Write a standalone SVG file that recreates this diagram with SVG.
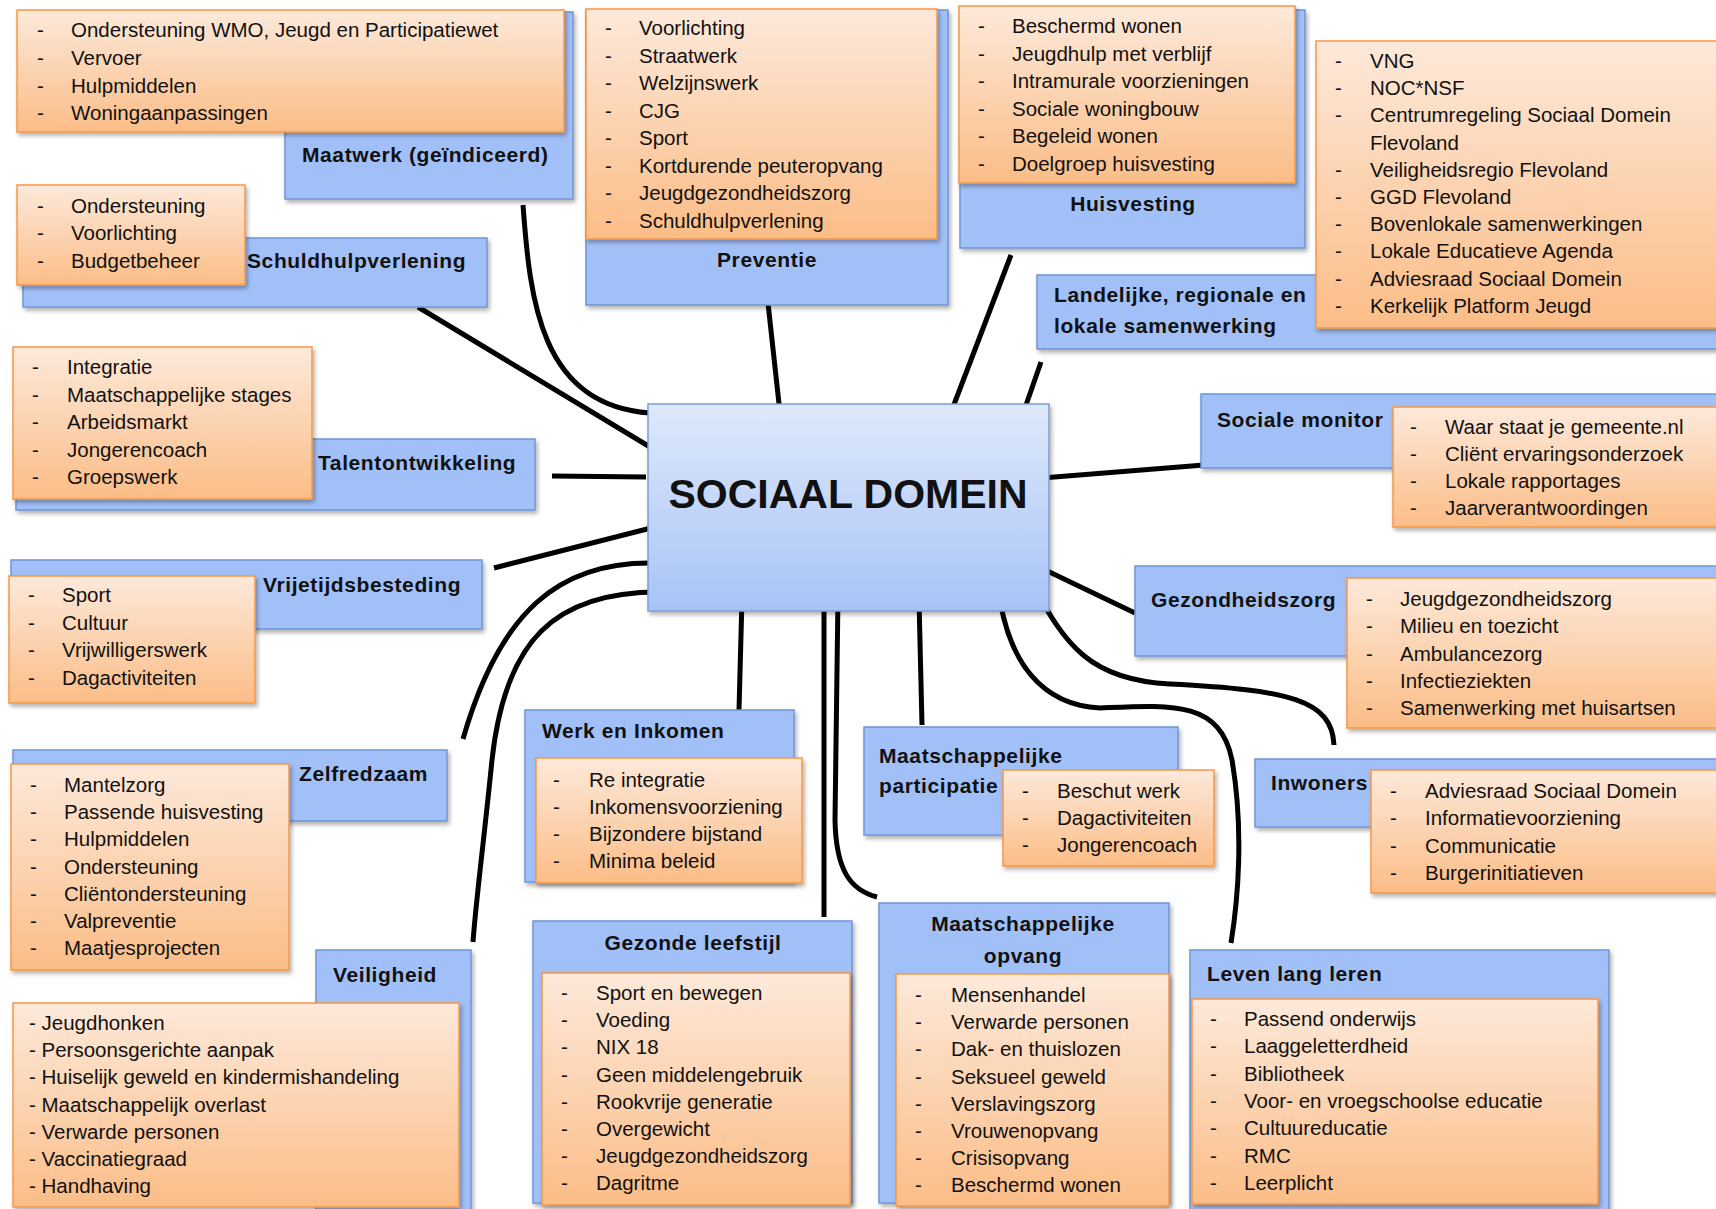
<svg xmlns="http://www.w3.org/2000/svg" width="1716" height="1209" viewBox="0 0 1716 1209">
<defs>
<linearGradient id="og" x1="0" y1="0" x2="0" y2="1"><stop offset="0" stop-color="#fde9da"/><stop offset="1" stop-color="#fbbd87"/></linearGradient>
<linearGradient id="cg" x1="0" y1="0" x2="0" y2="1"><stop offset="0" stop-color="#dfe9fc"/><stop offset="1" stop-color="#a7c3f6"/></linearGradient>
<filter id="sh" x="-5%" y="-5%" width="115%" height="120%"><feDropShadow dx="2" dy="3" stdDeviation="2" flood-color="#000" flood-opacity="0.3"/></filter>
<style>
.b{fill:#a2c0f8;stroke:#6f95d4;stroke-width:1.5;filter:url(#sh)}
.o{fill:url(#og);stroke:#f79646;stroke-width:1.5;filter:url(#sh)}
.t{font-family:"Liberation Sans",Arial,sans-serif;font-weight:bold;font-size:21px;letter-spacing:0.6px;fill:#111}
.i{font-family:"Liberation Sans",Arial,sans-serif;font-size:20.5px;fill:#111}
.m{text-anchor:middle}
.c{fill:none;stroke:#000;stroke-width:5}
</style>
</defs>
<rect width="1716" height="1209" fill="#fff"/>
<g id="connectors">
<path class="c" d="M523,205 C530,300 540,405 650,413"/>
<path class="c" d="M418,307 L650,447"/>
<path class="c" d="M768,303 L780,413"/>
<path class="c" d="M1011,255 L950,415"/>
<path class="c" d="M1041,362 L1025,408"/>
<path class="c" d="M552,476 L646,477"/>
<path class="c" d="M494,568 L655,527"/>
<path class="c" d="M652,563 C560,562 500,610 463,739"/>
<path class="c" d="M659,592 C555,592 505,640 492,760 C484,840 476,900 473,942"/>
<path class="c" d="M739,710 L742,598"/>
<path class="c" d="M824,598 L824,917"/>
<path class="c" d="M838,596 L835,820 C836,870 850,890 877,897"/>
<path class="c" d="M922,725 L919,600"/>
<path class="c" d="M1000,600 C1010,660 1040,705 1100,708 C1170,705 1220,700 1232,760 C1244,830 1238,900 1231,943"/>
<path class="c" d="M1042,478 L1204,465"/>
<path class="c" d="M1039,567 L1135,613"/>
<path class="c" d="M1032,583 C1065,645 1090,680 1170,684 C1290,690 1332,700 1334,745"/>
</g>
<g id="center">
<rect x="648" y="404" width="401" height="207" fill="url(#cg)" stroke="#7a9fd8" stroke-width="1.5" filter="url(#sh)"/>
<text x="848" y="508" class="m" font-family="Liberation Sans, Arial, sans-serif" font-weight="bold" font-size="41" fill="#111">SOCIAAL DOMEIN</text>
</g>
<g id="maatwerk">
<rect class="b" x="285" y="12" width="288" height="187"/>
<rect class="o" x="17" y="10" width="547" height="122"/>
<text class="t" x="302" y="162">Maatwerk (geïndiceerd)</text>
<text class="i"><tspan x="37" y="37">-</tspan><tspan x="71" y="37">Ondersteuning WMO, Jeugd en Participatiewet</tspan><tspan x="37" y="65">-</tspan><tspan x="71" y="65">Vervoer</tspan><tspan x="37" y="93">-</tspan><tspan x="71" y="93">Hulpmiddelen</tspan><tspan x="37" y="120">-</tspan><tspan x="71" y="120">Woningaanpassingen</tspan></text>
</g>
<g id="schuldhulpverlening">
<rect class="b" x="23" y="238" width="464" height="69"/>
<rect class="o" x="17" y="185" width="228" height="100"/>
<text class="t" x="247" y="268">Schuldhulpverlening</text>
<text class="i"><tspan x="37" y="213">-</tspan><tspan x="71" y="213">Ondersteuning</tspan><tspan x="37" y="240">-</tspan><tspan x="71" y="240">Voorlichting</tspan><tspan x="37" y="268">-</tspan><tspan x="71" y="268">Budgetbeheer</tspan></text>
</g>
<g id="preventie">
<rect class="b" x="586" y="10" width="362" height="295"/>
<rect class="o" x="586" y="9" width="351" height="230"/>
<text class="t m" x="767" y="267">Preventie</text>
<text class="i"><tspan x="605" y="35">-</tspan><tspan x="639" y="35">Voorlichting</tspan><tspan x="605" y="62.5">-</tspan><tspan x="639" y="62.5">Straatwerk</tspan><tspan x="605" y="90">-</tspan><tspan x="639" y="90">Welzijnswerk</tspan><tspan x="605" y="117.5">-</tspan><tspan x="639" y="117.5">CJG</tspan><tspan x="605" y="145">-</tspan><tspan x="639" y="145">Sport</tspan><tspan x="605" y="172.5">-</tspan><tspan x="639" y="172.5">Kortdurende peuteropvang</tspan><tspan x="605" y="200">-</tspan><tspan x="639" y="200">Jeugdgezondheidszorg</tspan><tspan x="605" y="227.5">-</tspan><tspan x="639" y="227.5">Schuldhulpverlening</tspan></text>
</g>
<g id="huisvesting">
<rect class="b" x="960" y="10" width="345" height="238"/>
<rect class="o" x="959" y="6" width="336" height="177"/>
<text class="t m" x="1133" y="211">Huisvesting</text>
<text class="i"><tspan x="978" y="33">-</tspan><tspan x="1012" y="33">Beschermd wonen</tspan><tspan x="978" y="60.5">-</tspan><tspan x="1012" y="60.5">Jeugdhulp met verblijf</tspan><tspan x="978" y="88">-</tspan><tspan x="1012" y="88">Intramurale voorzieningen</tspan><tspan x="978" y="115.5">-</tspan><tspan x="1012" y="115.5">Sociale woningbouw</tspan><tspan x="978" y="143">-</tspan><tspan x="1012" y="143">Begeleid wonen</tspan><tspan x="978" y="170.5">-</tspan><tspan x="1012" y="170.5">Doelgroep huisvesting</tspan></text>
</g>
<g id="samenwerking">
<rect class="b" x="1037" y="275" width="690" height="74"/>
<rect class="o" x="1316" y="41" width="410" height="287"/>
<text class="t"><tspan x="1054" y="302">Landelijke, regionale en</tspan><tspan x="1054" y="333">lokale samenwerking</tspan></text>
<text class="i"><tspan x="1335" y="68">-</tspan><tspan x="1370" y="68">VNG</tspan><tspan x="1335" y="95.2">-</tspan><tspan x="1370" y="95.2">NOC*NSF</tspan><tspan x="1335" y="122.4">-</tspan><tspan x="1370" y="122.4">Centrumregeling Sociaal Domein</tspan><tspan x="1370" y="149.6">Flevoland</tspan><tspan x="1335" y="176.8">-</tspan><tspan x="1370" y="176.8">Veiligheidsregio Flevoland</tspan><tspan x="1335" y="204">-</tspan><tspan x="1370" y="204">GGD Flevoland</tspan><tspan x="1335" y="231.2">-</tspan><tspan x="1370" y="231.2">Bovenlokale samenwerkingen</tspan><tspan x="1335" y="258.4">-</tspan><tspan x="1370" y="258.4">Lokale Educatieve Agenda</tspan><tspan x="1335" y="285.6">-</tspan><tspan x="1370" y="285.6">Adviesraad Sociaal Domein</tspan><tspan x="1335" y="312.8">-</tspan><tspan x="1370" y="312.8">Kerkelijk Platform Jeugd</tspan></text>
</g>
<g id="talentontwikkeling">
<rect class="b" x="16" y="439" width="519" height="71"/>
<rect class="o" x="13" y="347" width="299" height="152"/>
<text class="t" x="318" y="470">Talentontwikkeling</text>
<text class="i"><tspan x="32" y="374">-</tspan><tspan x="67" y="374">Integratie</tspan><tspan x="32" y="401.5">-</tspan><tspan x="67" y="401.5">Maatschappelijke stages</tspan><tspan x="32" y="429">-</tspan><tspan x="67" y="429">Arbeidsmarkt</tspan><tspan x="32" y="456.5">-</tspan><tspan x="67" y="456.5">Jongerencoach</tspan><tspan x="32" y="484">-</tspan><tspan x="67" y="484">Groepswerk</tspan></text>
</g>
<g id="sociale-monitor">
<rect class="b" x="1201" y="394" width="526" height="74"/>
<rect class="o" x="1393" y="407" width="334" height="120"/>
<text class="t" x="1217" y="427">Sociale monitor</text>
<text class="i"><tspan x="1410" y="434">-</tspan><tspan x="1445" y="434">Waar staat je gemeente.nl</tspan><tspan x="1410" y="461">-</tspan><tspan x="1445" y="461">Cliënt ervaringsonderzoek</tspan><tspan x="1410" y="488">-</tspan><tspan x="1445" y="488">Lokale rapportages</tspan><tspan x="1410" y="515">-</tspan><tspan x="1445" y="515">Jaarverantwoordingen</tspan></text>
</g>
<g id="vrijetijdsbesteding">
<rect class="b" x="11" y="560" width="471" height="69"/>
<rect class="o" x="9" y="576" width="246" height="127"/>
<text class="t" x="263" y="592">Vrijetijdsbesteding</text>
<text class="i"><tspan x="28" y="602">-</tspan><tspan x="62" y="602">Sport</tspan><tspan x="28" y="629.5">-</tspan><tspan x="62" y="629.5">Cultuur</tspan><tspan x="28" y="657">-</tspan><tspan x="62" y="657">Vrijwilligerswerk</tspan><tspan x="28" y="684.5">-</tspan><tspan x="62" y="684.5">Dagactiviteiten</tspan></text>
</g>
<g id="gezondheidszorg">
<rect class="b" x="1135" y="566" width="592" height="90"/>
<rect class="o" x="1347" y="578" width="380" height="150"/>
<text class="t" x="1151" y="607">Gezondheidszorg</text>
<text class="i"><tspan x="1366" y="606">-</tspan><tspan x="1400" y="606">Jeugdgezondheidszorg</tspan><tspan x="1366" y="633.3">-</tspan><tspan x="1400" y="633.3">Milieu en toezicht</tspan><tspan x="1366" y="660.6">-</tspan><tspan x="1400" y="660.6">Ambulancezorg</tspan><tspan x="1366" y="687.9">-</tspan><tspan x="1400" y="687.9">Infectieziekten</tspan><tspan x="1366" y="715.2">-</tspan><tspan x="1400" y="715.2">Samenwerking met huisartsen</tspan></text>
</g>
<g id="zelfredzaam">
<rect class="b" x="13" y="750" width="434" height="71"/>
<rect class="o" x="11" y="764" width="278" height="206"/>
<text class="t" x="299" y="781">Zelfredzaam</text>
<text class="i"><tspan x="30" y="792">-</tspan><tspan x="64" y="792">Mantelzorg</tspan><tspan x="30" y="819.2">-</tspan><tspan x="64" y="819.2">Passende huisvesting</tspan><tspan x="30" y="846.4">-</tspan><tspan x="64" y="846.4">Hulpmiddelen</tspan><tspan x="30" y="873.6">-</tspan><tspan x="64" y="873.6">Ondersteuning</tspan><tspan x="30" y="900.8">-</tspan><tspan x="64" y="900.8">Cliëntondersteuning</tspan><tspan x="30" y="928">-</tspan><tspan x="64" y="928">Valpreventie</tspan><tspan x="30" y="955.2">-</tspan><tspan x="64" y="955.2">Maatjesprojecten</tspan></text>
</g>
<g id="werk-en-inkomen">
<rect class="b" x="525" y="710" width="269" height="172"/>
<rect class="o" x="536" y="758" width="266" height="125"/>
<text class="t" x="542" y="738">Werk en Inkomen</text>
<text class="i"><tspan x="553" y="786.5">-</tspan><tspan x="589" y="786.5">Re integratie</tspan><tspan x="553" y="813.5">-</tspan><tspan x="589" y="813.5">Inkomensvoorziening</tspan><tspan x="553" y="840.5">-</tspan><tspan x="589" y="840.5">Bijzondere bijstand</tspan><tspan x="553" y="867.5">-</tspan><tspan x="589" y="867.5">Minima beleid</tspan></text>
</g>
<g id="maatschappelijke-participatie">
<rect class="b" x="864" y="727" width="314" height="108"/>
<rect class="o" x="1003" y="770" width="211" height="96"/>
<text class="t"><tspan x="879" y="763">Maatschappelijke</tspan><tspan x="879" y="793">participatie</tspan></text>
<text class="i"><tspan x="1022" y="798">-</tspan><tspan x="1057" y="798">Beschut werk</tspan><tspan x="1022" y="825">-</tspan><tspan x="1057" y="825">Dagactiviteiten</tspan><tspan x="1022" y="852">-</tspan><tspan x="1057" y="852">Jongerencoach</tspan></text>
</g>
<g id="inwoners">
<rect class="b" x="1255" y="759" width="472" height="68"/>
<rect class="o" x="1371" y="770" width="356" height="123"/>
<text class="t" x="1271" y="790">Inwoners</text>
<text class="i"><tspan x="1390" y="798">-</tspan><tspan x="1425" y="798">Adviesraad Sociaal Domein</tspan><tspan x="1390" y="825.3">-</tspan><tspan x="1425" y="825.3">Informatievoorziening</tspan><tspan x="1390" y="852.6">-</tspan><tspan x="1425" y="852.6">Communicatie</tspan><tspan x="1390" y="879.9">-</tspan><tspan x="1425" y="879.9">Burgerinitiatieven</tspan></text>
</g>
<g id="veiligheid">
<rect class="b" x="316" y="950" width="155" height="265"/>
<rect class="o" x="13" y="1003" width="446" height="204"/>
<text class="t" x="333" y="982">Veiligheid</text>
<text class="i"><tspan x="29" y="1030">- Jeugdhonken</tspan><tspan x="29" y="1057.2">- Persoonsgerichte aanpak</tspan><tspan x="29" y="1084.4">- Huiselijk geweld en kindermishandeling</tspan><tspan x="29" y="1111.6">- Maatschappelijk overlast</tspan><tspan x="29" y="1138.8">- Verwarde personen</tspan><tspan x="29" y="1166">- Vaccinatiegraad</tspan><tspan x="29" y="1193.2">- Handhaving</tspan></text>
</g>
<g id="gezonde-leefstijl">
<rect class="b" x="533" y="921" width="319" height="282"/>
<rect class="o" x="542" y="973" width="308" height="232"/>
<text class="t m" x="693" y="950">Gezonde leefstijl</text>
<text class="i"><tspan x="561" y="1000">-</tspan><tspan x="596" y="1000">Sport en bewegen</tspan><tspan x="561" y="1027.2">-</tspan><tspan x="596" y="1027.2">Voeding</tspan><tspan x="561" y="1054.4">-</tspan><tspan x="596" y="1054.4">NIX 18</tspan><tspan x="561" y="1081.6">-</tspan><tspan x="596" y="1081.6">Geen middelengebruik</tspan><tspan x="561" y="1108.8">-</tspan><tspan x="596" y="1108.8">Rookvrije generatie</tspan><tspan x="561" y="1136">-</tspan><tspan x="596" y="1136">Overgewicht</tspan><tspan x="561" y="1163.2">-</tspan><tspan x="596" y="1163.2">Jeugdgezondheidszorg</tspan><tspan x="561" y="1190.4">-</tspan><tspan x="596" y="1190.4">Dagritme</tspan></text>
</g>
<g id="maatschappelijke-opvang">
<rect class="b" x="879" y="903" width="290" height="300"/>
<rect class="o" x="896" y="974" width="273" height="232"/>
<text class="t m"><tspan x="1023" y="931">Maatschappelijke</tspan><tspan x="1023" y="963">opvang</tspan></text>
<text class="i"><tspan x="915" y="1002">-</tspan><tspan x="951" y="1002">Mensenhandel</tspan><tspan x="915" y="1029.2">-</tspan><tspan x="951" y="1029.2">Verwarde personen</tspan><tspan x="915" y="1056.4">-</tspan><tspan x="951" y="1056.4">Dak- en thuislozen</tspan><tspan x="915" y="1083.6">-</tspan><tspan x="951" y="1083.6">Seksueel geweld</tspan><tspan x="915" y="1110.8">-</tspan><tspan x="951" y="1110.8">Verslavingszorg</tspan><tspan x="915" y="1138">-</tspan><tspan x="951" y="1138">Vrouwenopvang</tspan><tspan x="915" y="1165.2">-</tspan><tspan x="951" y="1165.2">Crisisopvang</tspan><tspan x="915" y="1192.4">-</tspan><tspan x="951" y="1192.4">Beschermd wonen</tspan></text>
</g>
<g id="leven-lang-leren">
<rect class="b" x="1190" y="950" width="419" height="265"/>
<rect class="o" x="1192" y="999" width="406" height="205"/>
<text class="t" x="1207" y="981">Leven lang leren</text>
<text class="i"><tspan x="1210" y="1026">-</tspan><tspan x="1244" y="1026">Passend onderwijs</tspan><tspan x="1210" y="1053.3">-</tspan><tspan x="1244" y="1053.3">Laaggeletterdheid</tspan><tspan x="1210" y="1080.6">-</tspan><tspan x="1244" y="1080.6">Bibliotheek</tspan><tspan x="1210" y="1107.9">-</tspan><tspan x="1244" y="1107.9">Voor- en vroegschoolse educatie</tspan><tspan x="1210" y="1135.2">-</tspan><tspan x="1244" y="1135.2">Cultuureducatie</tspan><tspan x="1210" y="1162.5">-</tspan><tspan x="1244" y="1162.5">RMC</tspan><tspan x="1210" y="1189.8">-</tspan><tspan x="1244" y="1189.8">Leerplicht</tspan></text>
</g>
</svg>
